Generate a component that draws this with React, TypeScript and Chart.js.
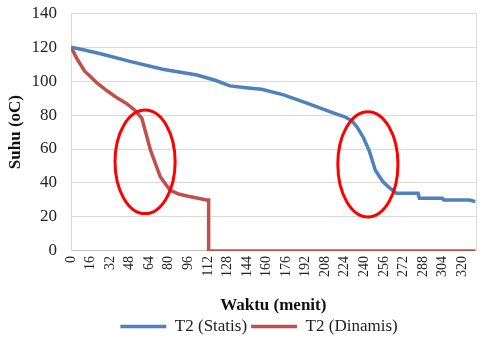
import React, { useEffect, useRef } from 'react';
import { Chart, registerables } from 'chart.js';

Chart.register(...registerables);

// ---- Data ----
const statisMinutes = [0, 10, 25, 49, 75, 103, 118, 130, 145, 156, 174, 193, 214, 224, 230, 234, 239, 244, 249, 255, 260, 266, 284, 285, 304, 305, 326, 331];
const statisTemps = [120, 118.5, 116, 111.5, 107, 103.6, 100.5, 97.2, 96, 95.2, 91.9, 87, 81.5, 79, 76.5, 73, 67, 59, 47.5, 41, 37.5, 34, 34, 31, 31, 30, 30, 29];

const dinamisMinutes = [0, 5, 11, 22, 30, 38, 45, 52, 58, 65, 73, 81, 88, 95, 104, 111, 112.6, 112.6, 331];
const dinamisTemps = [120, 113, 106, 98.5, 94, 90, 87, 83, 78, 59.4, 43.7, 35.8, 33.5, 32.3, 31, 30, 30, 0, 0];

const seriesLabels = ['T2 (Statis)', 'T2 (Dinamis)'];
const xMax = 331;
const xTickStep = 16;
const yMax = 140;
const yTickStep = 20;

// highlighted regions (red ellipses), in data units
const ellipseCenterMinutes = [60.6, 242.9];
const ellipseCenterTemps = [52.5, 51];
const ellipseRadiusMinutes = [24.6, 24.6];
const ellipseRadiusTemps = [30.5, 31];

const SERIF = "'Liberation Serif', 'Times New Roman', serif";

const markPlugin = {
  id: 'marks',
  afterLayout(chart: any) {
    // centre the legend under the plot area rather than the whole canvas
    const lg = chart.legend;
    if (lg) lg.left += 37;
  },
  beforeDatasetsDraw(chart: any) {
    const { ctx, chartArea } = chart;
    ctx.save();
    ctx.strokeStyle = '#d9d9d9';
    ctx.lineWidth = 1;
    ctx.beginPath();
    ctx.moveTo(Math.round(chartArea.right) + 0.5, chartArea.top);
    ctx.lineTo(Math.round(chartArea.right) + 0.5, chartArea.bottom);
    ctx.stroke();
    ctx.restore();
  },
  afterDatasetsDraw(chart: any) {
    const { ctx } = chart;
    const xs = chart.scales.x;
    const ys = chart.scales.y;
    ctx.save();
    ctx.strokeStyle = '#ff0000';
    ctx.lineWidth = 3;
    for (let i = 0; i < ellipseCenterMinutes.length; i++) {
      const cx = xs.getPixelForValue(ellipseCenterMinutes[i]);
      const cy = ys.getPixelForValue(ellipseCenterTemps[i]);
      const rx = Math.abs(xs.getPixelForValue(ellipseCenterMinutes[i] + ellipseRadiusMinutes[i]) - cx);
      const ry = Math.abs(ys.getPixelForValue(ellipseCenterTemps[i] + ellipseRadiusTemps[i]) - cy);
      ctx.beginPath();
      ctx.ellipse(cx, cy, rx, ry, 0, 0, Math.PI * 2);
      ctx.stroke();
    }
    ctx.restore();
  },
};

export default function App() {
  const canvasRef = useRef<HTMLCanvasElement | null>(null);

  useEffect(() => {
    document.body.style.margin = '0';
    const canvas = canvasRef.current;
    if (!canvas) return;
    const chart = new Chart(canvas, {
      type: 'line',
      data: {
        datasets: [
          {
            label: seriesLabels[0],
            data: statisMinutes.map((m, i) => ({ x: m, y: statisTemps[i] })),
            borderColor: '#4f81bd',
            backgroundColor: '#4f81bd',
            borderWidth: 3.5,
            pointRadius: 0,
            tension: 0,
            fill: false,
          },
          {
            label: seriesLabels[1],
            data: dinamisMinutes.map((m, i) => ({ x: m, y: dinamisTemps[i] })),
            borderColor: '#c0504d',
            backgroundColor: '#c0504d',
            borderWidth: 3.5,
            pointRadius: 0,
            tension: 0,
            fill: false,
          },
        ],
      },
      options: {
        animation: false,
        responsive: false,
        maintainAspectRatio: false,
        layout: { padding: { top: 4, right: 3, left: 0, bottom: 0 } },
        plugins: {
          tooltip: { enabled: false },
          legend: {
            position: 'bottom',
            labels: {
              usePointStyle: true,
              pointStyle: 'line',
              pointStyleWidth: 46,
              padding: 4,
              color: '#222',
              font: { family: SERIF, size: 17 },
            },
          },
        },
        scales: {
          x: {
            type: 'linear',
            min: 0,
            max: xMax,
            afterFit(scale: any) {
              scale.height = 63.1;
            },
            grid: { display: false, drawTicks: false },
            border: { display: true, color: '#bfbfbf' },
            ticks: {
              stepSize: xTickStep,
              includeBounds: false,
              autoSkip: false,
              minRotation: 90,
              maxRotation: 90,
              padding: 5,
              color: '#222',
              font: { family: SERIF, size: 14 },
            },
            title: {
              display: true,
              text: 'Waktu (menit)',
              color: '#111',
              padding: { top: 0, bottom: 2 },
              font: { family: SERIF, size: 17, weight: 'bold', lineHeight: 0.8 },
            },
          },
          y: {
            min: 0,
            max: yMax,
            afterFit(scale: any) {
              scale.width = 71;
            },
            grid: { color: '#d9d9d9', drawTicks: true, tickLength: 11, tickColor: 'rgba(0,0,0,0)' },
            border: { display: true, color: '#d9d9d9' },
            ticks: {
              stepSize: yTickStep,
              padding: 3,
              color: '#222',
              font: { family: SERIF, size: 17 },
            },
            title: {
              display: true,
              text: 'Suhu (oC)',
              color: '#111',
              padding: { top: 5, bottom: 0 },
              font: { family: SERIF, size: 17, weight: 'bold' },
            },
          },
        },
      } as any,
      plugins: [markPlugin],
    });
    return () => chart.destroy();
  }, []);

  return (
    <div style={{ width: 484, height: 345 }}>
      <canvas ref={canvasRef} width={484} height={345} style={{ display: 'block', width: 484, height: 345 }} />
    </div>
  );
}
